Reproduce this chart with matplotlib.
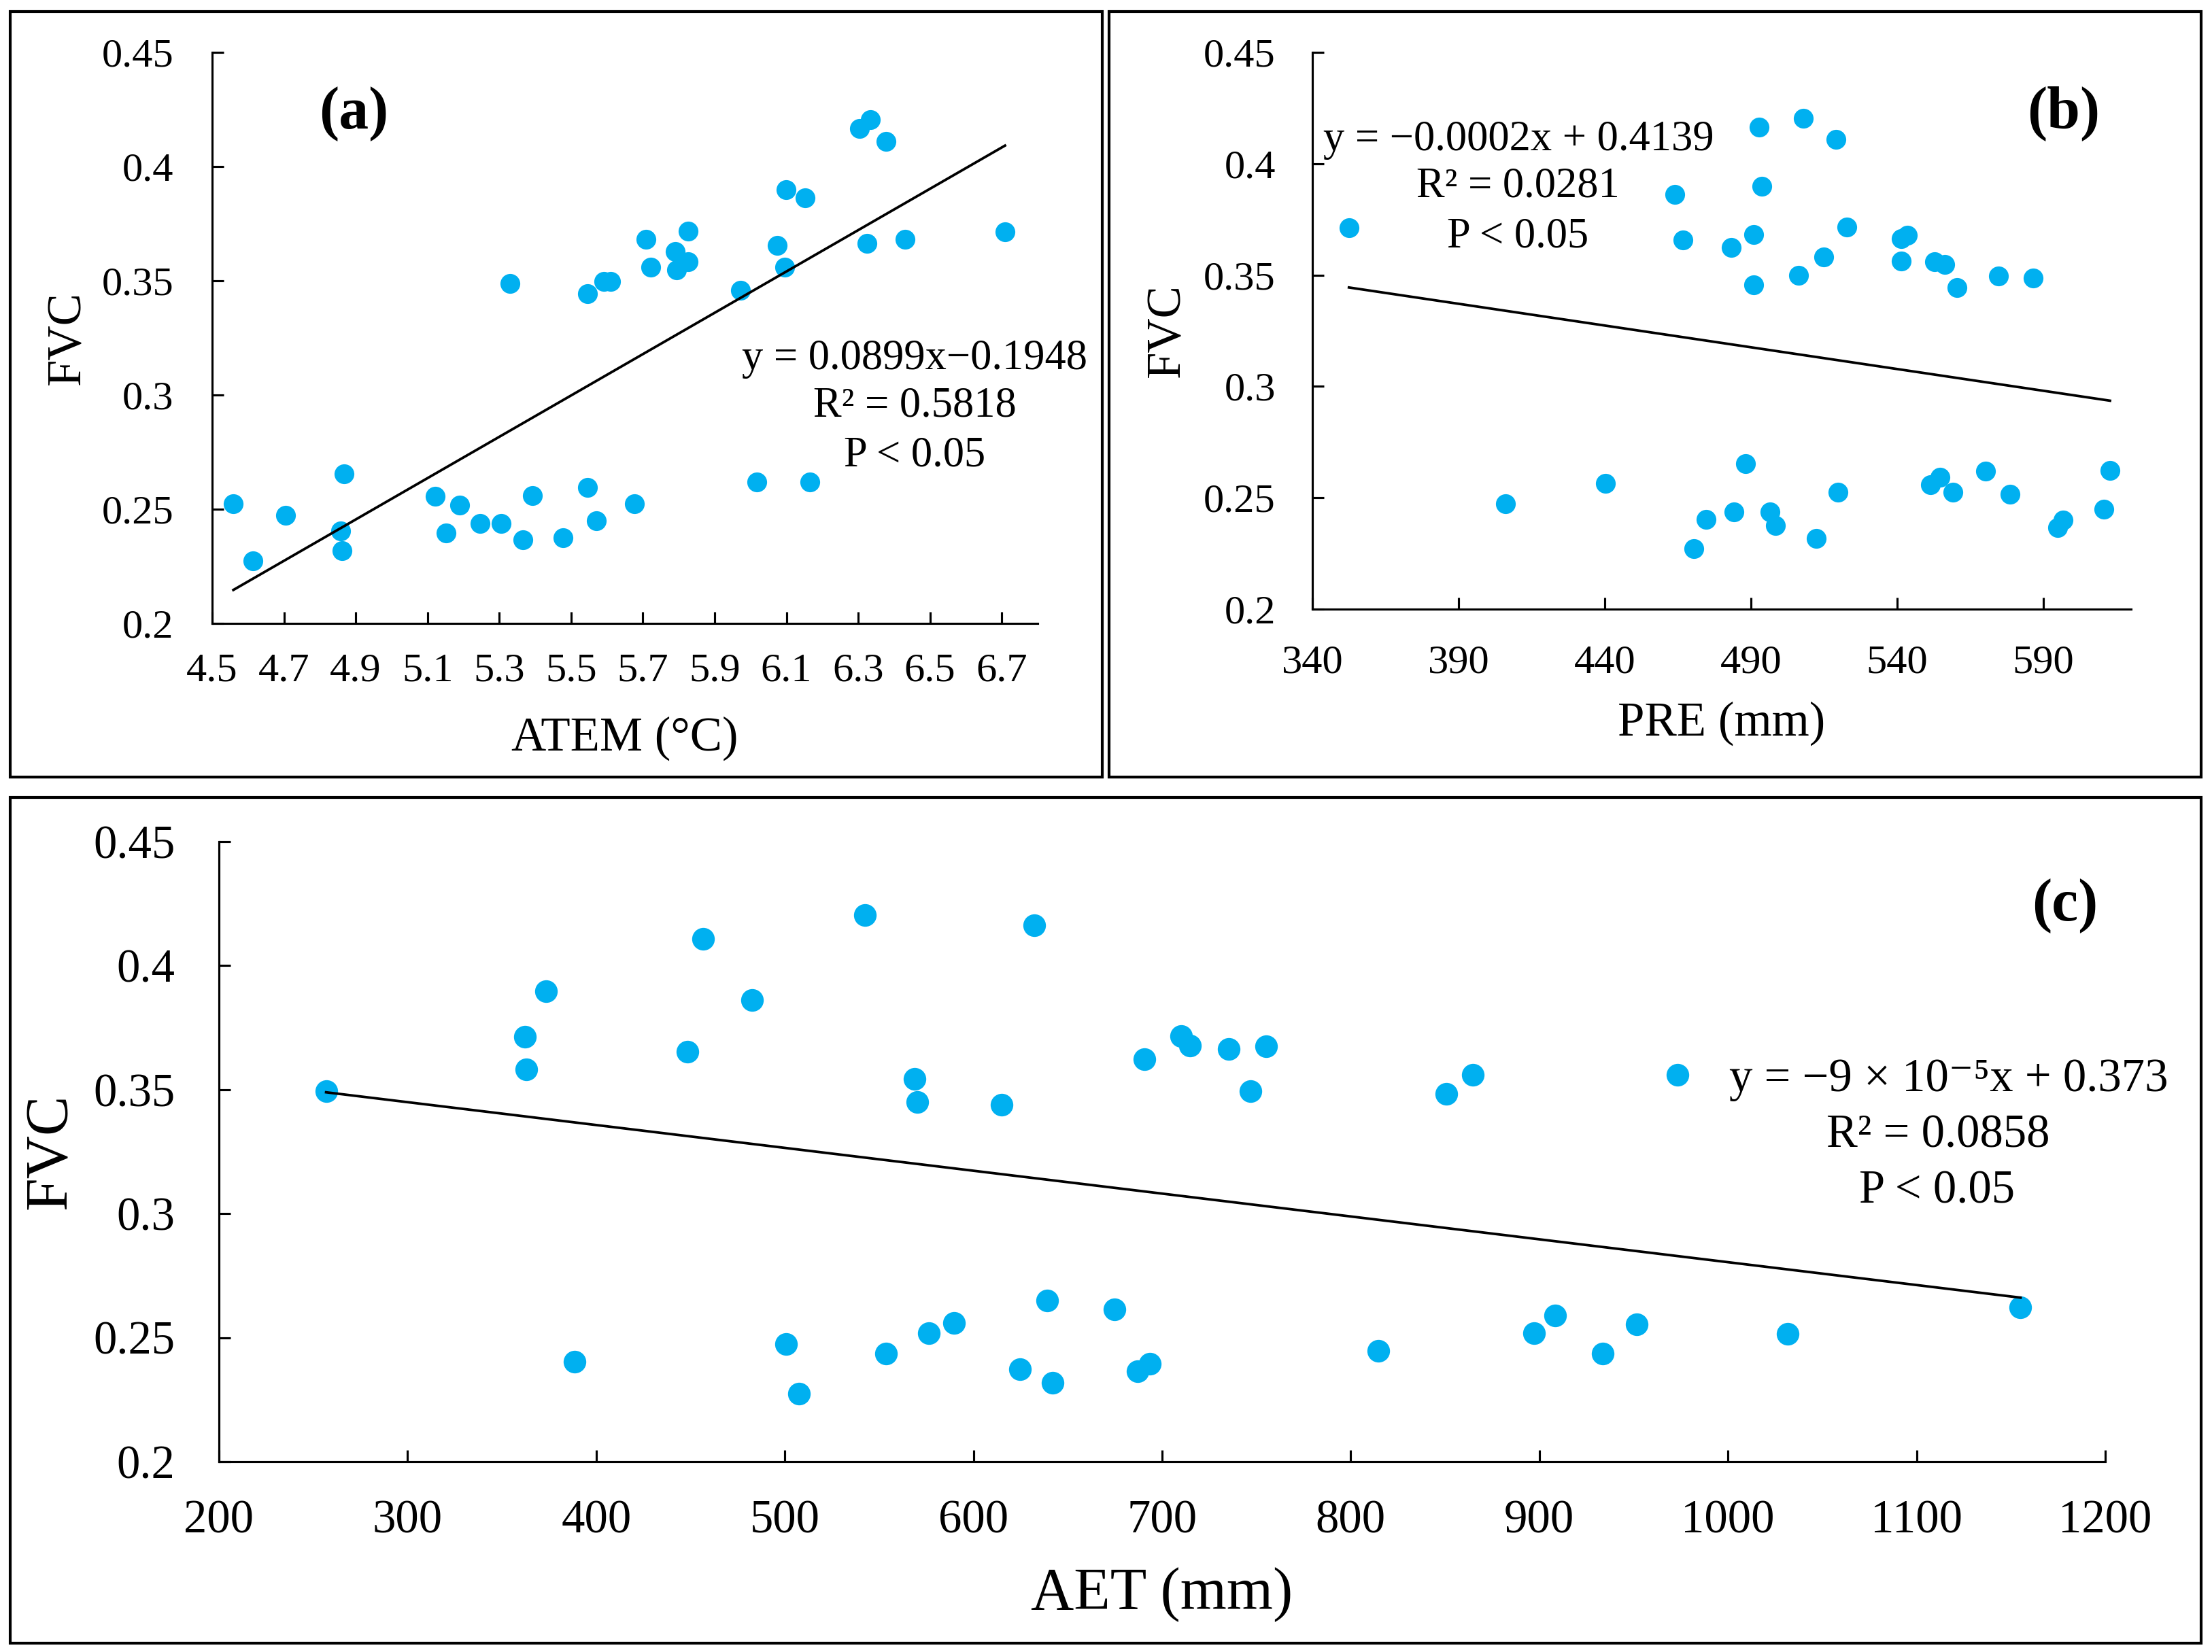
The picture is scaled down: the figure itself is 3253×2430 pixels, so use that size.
import numpy as np
import matplotlib
matplotlib.use('Agg')
import matplotlib.pyplot as plt
from matplotlib.patches import Rectangle

# ---------------- data ----------------
ATEM = [4.559, 4.613, 4.705, 4.858, 4.862, 4.868, 5.122, 5.151, 5.190, 5.247,
        5.305, 5.329, 5.366, 5.393, 5.478, 5.546, 5.546, 5.571, 5.591, 5.610,
        5.677, 5.708, 5.722, 5.790, 5.794, 5.826, 5.826, 5.972, 6.017, 6.074,
        6.095, 6.099, 6.152, 6.166, 6.303, 6.324, 6.334, 6.377, 6.430, 6.709]
FVC_A = [0.2524, 0.2273, 0.2474, 0.2404, 0.2317, 0.2655, 0.2557, 0.2397, 0.2517, 0.2437,
         0.2437, 0.3487, 0.2367, 0.2561, 0.2376, 0.3443, 0.2594, 0.2448, 0.3496, 0.3496,
         0.2524, 0.3681, 0.3559, 0.3627, 0.3548, 0.3718, 0.3583, 0.3459, 0.2620, 0.3655,
         0.3559, 0.3900, 0.3862, 0.2620, 0.4166, 0.3664, 0.4205, 0.4109, 0.3681, 0.3714]

PRE = [352.5, 406.1, 440.2, 464.0, 466.7, 470.5, 474.6, 483.3, 484.2, 488.1,
       491.0, 491.0, 492.9, 493.8, 496.5, 498.4, 506.3, 507.8, 512.4, 514.8,
       519.1, 519.8, 522.9, 541.4, 541.4, 543.6, 551.5, 552.7, 554.7, 556.3,
       559.0, 560.4, 570.3, 574.6, 578.5, 586.4, 594.8, 596.7, 610.7, 612.8]
FVC_B = [0.3712, 0.2474, 0.2564, 0.3862, 0.3656, 0.2273, 0.2403, 0.3625, 0.2436, 0.2654,
         0.3683, 0.3455, 0.4164, 0.3900, 0.2436, 0.2374, 0.3500, 0.4205, 0.2318, 0.3580,
         0.4108, 0.2526, 0.3717, 0.3562, 0.3665, 0.3679, 0.2560, 0.3560, 0.2593, 0.3549,
         0.2524, 0.3444, 0.2620, 0.3497, 0.2517, 0.3486, 0.2367, 0.2401, 0.2448, 0.2622]

AET = [256.8, 362.3, 363.1, 373.5, 388.5, 448.3, 456.5, 482.7, 500.7, 507.4,
       542.6, 553.8, 568.7, 570.2, 576.2, 589.7, 615.1, 624.8, 632.3, 639.0,
       642.0, 674.9, 686.9, 690.6, 693.6, 710.1, 714.6, 735.5, 746.7, 755.0,
       814.8, 850.7, 864.9, 897.1, 908.3, 933.7, 951.7, 973.4, 1031.7, 1155.1]
FVC_C = [0.3495, 0.3712, 0.3582, 0.3896, 0.2403, 0.3652, 0.4108, 0.3862, 0.2474, 0.2273,
         0.4205, 0.2436, 0.3544, 0.3450, 0.2519, 0.2560, 0.3439, 0.2374, 0.4164, 0.2651,
         0.2318, 0.2615, 0.2365, 0.3623, 0.2396, 0.3717, 0.3679, 0.3663, 0.3493, 0.3674,
         0.2448, 0.3484, 0.3560, 0.2519, 0.2589, 0.2436, 0.2555, 0.3560, 0.2515, 0.2622]

Y_TICKS = [0.2, 0.25, 0.3, 0.35, 0.4, 0.45]
Y_TICKLABELS = ['0.2', '0.25', '0.3', '0.35', '0.4', '0.45']
XA_TICKS = [4.5, 4.7, 4.9, 5.1, 5.3, 5.5, 5.7, 5.9, 6.1, 6.3, 6.5, 6.7]
XA_LABELS = ['4.5', '4.7', '4.9', '5.1', '5.3', '5.5', '5.7', '5.9', '6.1', '6.3', '6.5', '6.7']
XB_TICKS = [340, 390, 440, 490, 540, 590]
XB_LABELS = ['340', '390', '440', '490', '540', '590']
XC_TICKS = [200, 300, 400, 500, 600, 700, 800, 900, 1000, 1100, 1200]
XC_LABELS = ['200', '300', '400', '500', '600', '700', '800', '900', '1000', '1100', '1200']

EQ_A = ['y = 0.0899x\u22120.1948', 'R\u00b2 = 0.5818', 'P < 0.05']
EQ_B = ['y = \u22120.0002x + 0.4139', 'R\u00b2 = 0.0281', 'P < 0.05']
EQ_C = ['y = \u22129 \u00d7 10\u207b\u2075x + 0.373', 'R\u00b2 = 0.0858', 'P < 0.05']

# ---------------- figure ----------------
plt.rcParams['font.family'] = ['Liberation Serif', 'DejaVu Serif']
plt.rcParams['mathtext.fontset'] = 'stix'
W, H = 3253, 2430
DPI = 300
fig = plt.figure(figsize=(W / DPI, H / DPI), dpi=DPI)
fig.patch.set_facecolor('white')

def fx(x):
    return x / W

def fy(y):
    return 1 - y / H

def make_axes(l, t, r, b):
    return fig.add_axes([fx(l), fy(b), fx(r) - fx(l), fy(t) - fy(b)])

def box(l, t, r, b):
    fig.add_artist(Rectangle((fx(l), fy(b)), fx(r) - fx(l), fy(t) - fy(b),
                             transform=fig.transFigure, fill=False,
                             lw=1.0, ec='black'))

box(15, 17, 1621, 1143)
box(1631, 17, 3237, 1143)
box(15, 1173, 3237, 2417)

axA = make_axes(312, 77, 1526, 917)
axB = make_axes(1930, 77, 3134, 896)
axC = make_axes(322, 1238, 3096, 2150)

BLUE = '#00B0F0'

def style(ax, xlim, xticks, xlabels, fs, ypad, xpad):
    ax.set_xlim(*xlim)
    ax.set_ylim(0.2, 0.45)
    ax.set_xticks(xticks)
    ax.set_xticklabels(xlabels)
    ax.set_yticks(Y_TICKS)
    ax.set_yticklabels(Y_TICKLABELS)
    for s in ('top', 'right'):
        ax.spines[s].set_visible(False)
    for s in ('left', 'bottom'):
        ax.spines[s].set_linewidth(0.75)
    ax.tick_params(direction='in', length=4, width=0.75, labelsize=fs, colors='black')
    ax.tick_params(axis='y', pad=ypad)
    ax.tick_params(axis='x', pad=xpad)
    ax.set_facecolor('none')

def draw(ax, x, y, ms):
    x = np.asarray(x)
    y = np.asarray(y)
    ax.plot(x, y, 'o', ms=ms, color=BLUE, mec='none', zorder=3, clip_on=False)
    k, b = np.polyfit(x, y, 1)
    xs = np.array([x.min(), x.max()])
    ax.plot(xs, k * xs + b, color='black', lw=0.9, zorder=4)

# panel a
draw(axA, ATEM, FVC_A, 7)
style(axA, (4.5, 6.8), XA_TICKS, XA_LABELS, 14.5, 13.5, 10.5)
axA.set_xlabel('ATEM (\u00b0C)', fontsize=17, va='baseline')
axA.xaxis.set_label_coords(0.5, (917 - 1104) / 840)
axA.set_ylabel('FVC', fontsize=17, va='center')
axA.yaxis.set_label_coords((100 - 312) / 1214, 0.5)

# panel b
draw(axB, PRE, FVC_B, 7)
style(axB, (340, 620), XB_TICKS, XB_LABELS, 14.5, 13, 12.5)
axB.set_xlabel('PRE (mm)', fontsize=17, va='baseline')
axB.xaxis.set_label_coords(0.5, (896 - 1082) / 819)
axB.set_ylabel('FVC', fontsize=17, va='center')
axB.yaxis.set_label_coords((1717 - 1930) / 1204, 0.5)

# panel c
draw(axC, AET, FVC_C, 8)
style(axC, (200, 1200), XC_TICKS, XC_LABELS, 16.5, 15.5, 13.5)
axC.set_xlabel('AET (mm)', fontsize=21, va='baseline')
axC.xaxis.set_label_coords(0.5, (2150 - 2367) / 912)
axC.set_ylabel('FVC', fontsize=21, va='center')
axC.yaxis.set_label_coords((75 - 322) / 2774, 0.5)

# panel letters
for txt, x, y in (('(a)', 520, 168), ('(b)', 3035, 167), ('(c)', 3037, 1333)):
    fig.text(fx(x), fy(y), txt, fontsize=21, fontweight='bold',
             ha='center', va='center')

# equations
for line, x, y in zip(EQ_A, (1345, 1345, 1345), (543, 613, 685)):
    fig.text(fx(x), fy(y), line, fontsize=15, ha='center', va='baseline')
for line, x, y in zip(EQ_B, (2233, 2232, 2232), (221, 290, 364)):
    fig.text(fx(x), fy(y), line, fontsize=15, ha='center', va='baseline')
for line, x, y in zip(EQ_C, (2866, 2850, 2848), (1605, 1687, 1770)):
    fig.text(fx(x), fy(y), line, fontsize=16.5, ha='center', va='baseline',
             family=['Liberation Serif', 'DejaVu Serif'])

fig.savefig('out.png', dpi=DPI, facecolor='white')
